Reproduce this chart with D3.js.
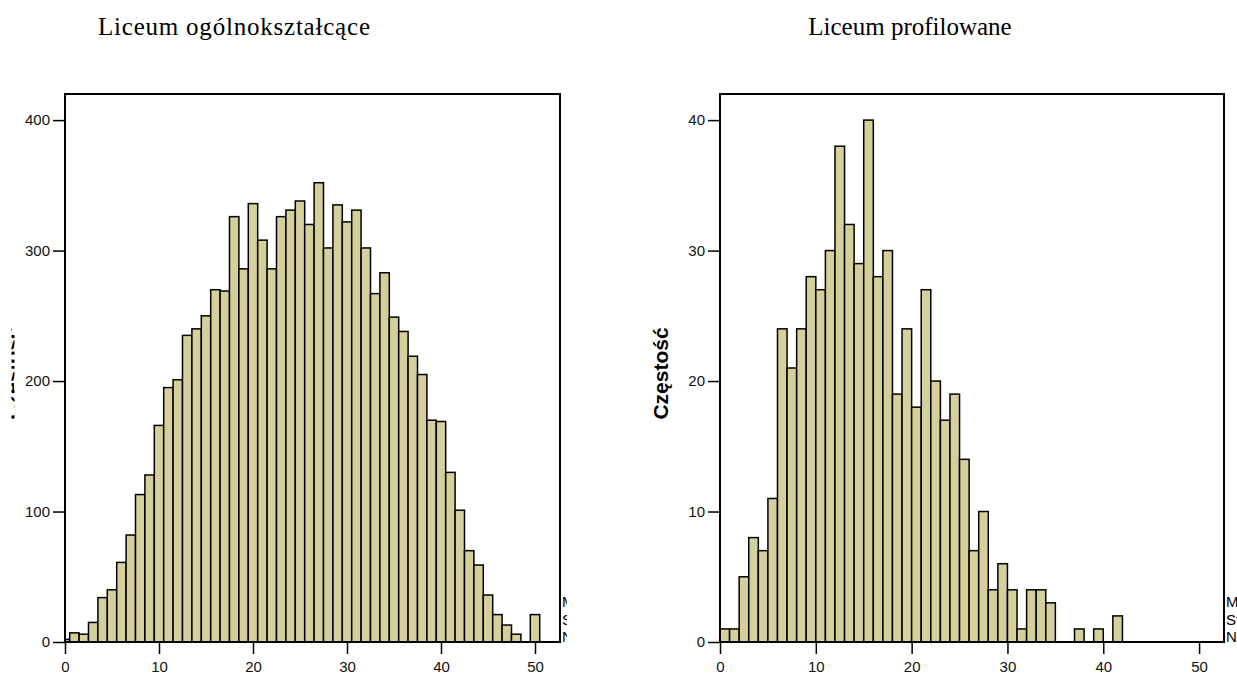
<!DOCTYPE html>
<html>
<head>
<meta charset="utf-8">
<script src="https://cdn.jsdelivr.net/npm/d3@7"></script>
<style>
body { margin: 0; background: #fff; }
svg { display: block; }
.tick text { font-family: "Liberation Sans", Arial, sans-serif; font-size: 15px; fill: #111; }
.tick line { stroke: #000; stroke-width: 1.5; }
.title { font-family: "Liberation Serif", "Times New Roman", serif; font-size: 25px; fill: #000; }
.ylabel { font-family: "Liberation Sans", Arial, sans-serif; font-size: 21px; font-weight: bold; fill: #000; }
.legend { font-family: "Liberation Sans", Arial, sans-serif; font-size: 15px; fill: #000; }
</style>
</head>
<body>
<svg id="chart" width="1237" height="679"></svg>
<script>
// Liceum ogólnokształcące: counts per score, bars centred on 0..50
var ogolneScores = d3.range(0, 51);
var ogolneCounts = [2, 7, 6, 15, 34, 40, 61, 82, 113, 128,
	166, 195, 201, 235, 240, 250, 270, 269, 326, 286,
	336, 308, 286, 326, 331, 338, 320, 352, 302, 335,
	322, 331, 302, 267, 283, 249, 238, 219, 205, 170,
	169, 130, 101, 70, 59, 36, 21, 13, 6, 0,
	21];
var ogolneTicksY = [0, 100, 200, 300, 400];

// Liceum profilowane: counts per bin [k, k+1)
var profilScores = d3.range(0, 42);
var profilCounts = [1, 1, 5, 8, 7, 11, 24, 21, 24, 28,
	27, 30, 38, 32, 29, 40, 28, 30, 19, 24,
	18, 27, 20, 17, 19, 14, 7, 10, 4, 6,
	4, 1, 4, 4, 3, 0, 0, 1, 0, 1,
	0, 2];
var profilTicksY = [0, 10, 20, 30, 40];

var ticksX = [0, 10, 20, 30, 40, 50];
var titles = ["Liceum ogólnokształcące", "Liceum profilowane"];
var yLabel = "Częstość";

var svg = d3.select("#chart");

function drawPanel(opts)
{
	var x = d3.scaleLinear().domain([0, opts.xMax]).range([opts.left, opts.right]);
	var y = d3.scaleLinear().domain([0, opts.yMax]).range([opts.bottom, opts.top]);

	var g = svg.append("g").attr("class", "panel-" + opts.id);

	var clipId = "clip-" + opts.id;
	svg.append("clipPath").attr("id", clipId)
		.append("rect")
		.attr("x", opts.left)
		.attr("y", opts.top)
		.attr("width", opts.right - opts.left)
		.attr("height", opts.bottom - opts.top);

	var bars = g.append("g").attr("clip-path", "url(#" + clipId + ")");
	bars.selectAll("rect")
		.data(opts.scores.filter(function(d, i){ return opts.counts[i] > 0; }))
		.enter()
		.append("rect")
		.attr("x", function(d){ return x(d + opts.offset); })
		.attr("width", function(d){ return x(d + opts.offset + 1) - x(d + opts.offset); })
		.attr("y", function(d){ return y(opts.counts[opts.scores.indexOf(d)]); })
		.attr("height", function(d){ return opts.bottom - y(opts.counts[opts.scores.indexOf(d)]); })
		.attr("fill", "#d4cf9b")
		.attr("stroke", "#000")
		.attr("stroke-width", 1.5);

	var yAxis = d3.axisLeft(y).tickValues(opts.ticksY).tickSize(12).tickPadding(3);
	g.append("g")
		.attr("transform", "translate(" + opts.left + ",0)")
		.call(yAxis)
		.call(function(a){ a.select(".domain").remove(); });

	var xAxis = d3.axisBottom(x).tickValues(ticksX).tickSize(12).tickPadding(7);
	g.append("g")
		.attr("transform", "translate(0," + opts.bottom + ")")
		.call(xAxis)
		.call(function(a){ a.select(".domain").remove(); });

	// frame
	g.append("rect")
		.attr("x", opts.left)
		.attr("y", opts.top)
		.attr("width", opts.right - opts.left)
		.attr("height", opts.bottom - opts.top)
		.attr("fill", "none")
		.attr("stroke", "#000")
		.attr("stroke-width", 2);

	var t = g.append("text")
		.attr("class", "title")
		.attr("x", opts.titleX)
		.attr("y", 35)
		.attr("text-anchor", "middle")
		.text(opts.title);
	if(opts.titleLen) t.attr("textLength", opts.titleLen);

	// y label, the left one only shows as a thin cut strip
	var labelG = g.append("g");
	if(opts.labelClip)
	{
		var lc = "lclip-" + opts.id;
		svg.append("clipPath").attr("id", lc)
			.append("rect")
			.attr("x", opts.labelClip[0]).attr("y", 0)
			.attr("width", opts.labelClip[1]).attr("height", 679);
		labelG.attr("clip-path", "url(#" + lc + ")");
	}
	labelG.append("text")
		.attr("class", "ylabel")
		.attr("transform", "translate(" + opts.labelX + "," + y(opts.yMax * 0.49) + ") rotate(-90)")
		.attr("text-anchor", "middle")
		.text(yLabel);

	// stats box, cut at its left edge
	var total = d3.sum(opts.counts);
	var mean = d3.sum(opts.scores, function(d, i){ return (d + opts.offset + 0.5) * opts.counts[i]; }) / total;
	var sd = Math.sqrt(d3.sum(opts.scores, function(d, i){ var v = d + opts.offset + 0.5 - mean; return v * v * opts.counts[i]; }) / (total - 1));
	var legendLines = ["Mean = " + mean.toFixed(1), "Std. Dev. = " + sd.toFixed(2), "N = " + total];
	var lg = g.append("g");
	if(opts.legendClip)
	{
		var gc = "gclip-" + opts.id;
		svg.append("clipPath").attr("id", gc)
			.append("rect")
			.attr("x", opts.right).attr("y", 580)
			.attr("width", opts.legendClip).attr("height", 70);
		lg.attr("clip-path", "url(#" + gc + ")");
	}
	lg.selectAll("text")
		.data(legendLines)
		.enter()
		.append("text")
		.attr("class", "legend")
		.attr("x", opts.right + 2)
		.attr("y", function(d, i){ return 607 + i * 17.5; })
		.text(function(d){ return d; });
}

drawPanel({
	id: "ogolne", scores: ogolneScores, counts: ogolneCounts, ticksY: ogolneTicksY,
	xMax: 52.66, yMax: 420, offset: -0.5,
	left: 65, right: 560, top: 94, bottom: 642,
	title: titles[0], titleX: 234, titleLen: 272,
	labelX: 19, labelClip: [11.5, 3], legendClip: 7
});

drawPanel({
	id: "profil", scores: profilScores, counts: profilCounts, ticksY: profilTicksY,
	xMax: 52.6, yMax: 42, offset: 0,
	left: 720, right: 1224, top: 94, bottom: 642,
	title: titles[1], titleX: 910, titleLen: null,
	labelX: 668, labelClip: null, legendClip: null
});
</script>
</body>
</html>
